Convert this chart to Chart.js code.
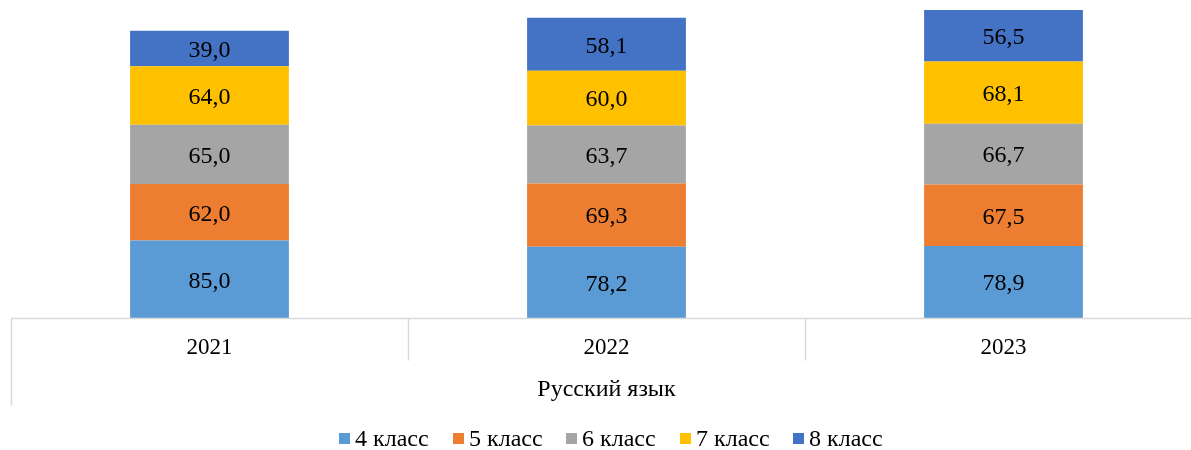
<!DOCTYPE html>
<html>
<head>
<meta charset="utf-8">
<script src="https://cdn.jsdelivr.net/npm/chart.js@4/dist/chart.umd.min.js"></script>
<style>
html,body{margin:0;padding:0;background:#fff;overflow:hidden;width:1191px;height:450px;}
canvas{display:block;}
</style>
</head>
<body>
<canvas id="c" width="1213" height="450"></canvas>
<script>
const categories = ['2021', '2022', '2023'];
const groupLabel = 'Русский язык';
const seriesNames = ['4 класс', '5 класс', '6 класс', '7 класс', '8 класс'];
const grade4 = [85.0, 78.2, 78.9];
const grade5 = [62.0, 69.3, 67.5];
const grade6 = [65.0, 63.7, 66.7];
const grade7 = [64.0, 60.0, 68.1];
const grade8 = [39.0, 58.1, 56.5];
const colors = ['#5B9BD5', '#ED7D31', '#A5A5A5', '#FFC000', '#4472C4'];

const FONT = '"Liberation Serif", "Times New Roman", serif';
const fmt = v => v.toFixed(1).replace('.', ',');

const seriesValues = [grade4, grade5, grade6, grade7, grade8];

const overlay = {
  id: 'overlay',
  afterDatasetsDraw(chart) {
    const ctx = chart.ctx;
    const ca = chart.chartArea;
    const xs = chart.scales.x;
    ctx.save();
    // data labels
    ctx.font = '24px ' + FONT;
    ctx.fillStyle = '#000';
    ctx.textAlign = 'center';
    ctx.textBaseline = 'middle';
    chart.data.datasets.forEach((ds, di) => {
      const meta = chart.getDatasetMeta(di);
      meta.data.forEach((bar, i) => {
        const y = (bar.y + bar.base) / 2;
        ctx.fillText(fmt(ds.data[i]), bar.x, y + 2);
      });
    });
    // axis lines
    ctx.strokeStyle = '#D9D9D9';
    ctx.lineWidth = 1.5;
    const yb = ca.bottom + 0.5;
    ctx.beginPath();
    ctx.moveTo(ca.left, yb);
    ctx.lineTo(ca.right, yb);
    const n = categories.length;
    const step = (xs.getPixelForValue(1) - xs.getPixelForValue(0));
    const edges = [];
    for (let i = 0; i <= n; i++) {
      edges.push(xs.getPixelForValue(0) - step / 2 + i * step);
    }
    edges.forEach((x, i) => {
      const outer = (i === 0 || i === n);
      ctx.moveTo(Math.round(x) + 0.5, yb);
      ctx.lineTo(Math.round(x) + 0.5, outer ? yb + 87 : yb + 42);
    });
    ctx.stroke();
    // category labels
    ctx.fillStyle = '#000';
    ctx.font = '23px ' + FONT;
    categories.forEach((c, i) => {
      ctx.fillText(c, xs.getPixelForValue(i), yb + 29);
    });
    ctx.font = '24px ' + FONT;
    ctx.fillText(groupLabel, (edges[0] + edges[n]) / 2, yb + 71);
    // legend
    const box = 11, gap = 5, pitch = 113.5;
    const x0 = 339;
    const ly = 440;
    ctx.textAlign = 'left';
    chart.data.datasets.forEach((ds, di) => {
      const x = x0 + di * pitch;
      ctx.fillStyle = ds.backgroundColor;
      ctx.fillRect(Math.round(x), 433, box, box);
      ctx.fillStyle = '#000';
      ctx.fillText(ds.label, Math.round(x) + box + gap, ly);
    });
    ctx.restore();
  }
};

new Chart(document.getElementById('c'), {
  type: 'bar',
  data: {
    labels: categories,
    datasets: seriesNames.map((name, i) => ({
      label: name,
      data: seriesValues[i],
      backgroundColor: colors[i],
      borderWidth: 0,
      barPercentage: 0.4,
      categoryPercentage: 1.0
    }))
  },
  options: {
    responsive: false,
    animation: false,
    layout: { padding: { left: 11, right: 11, top: 8, bottom: 132 } },
    plugins: { legend: { display: false }, tooltip: { enabled: false } },
    scales: {
      x: { stacked: true, display: false },
      y: { stacked: true, display: false, min: 0, max: 340 }
    }
  },
  plugins: [overlay]
});
</script>
</body>
</html>
